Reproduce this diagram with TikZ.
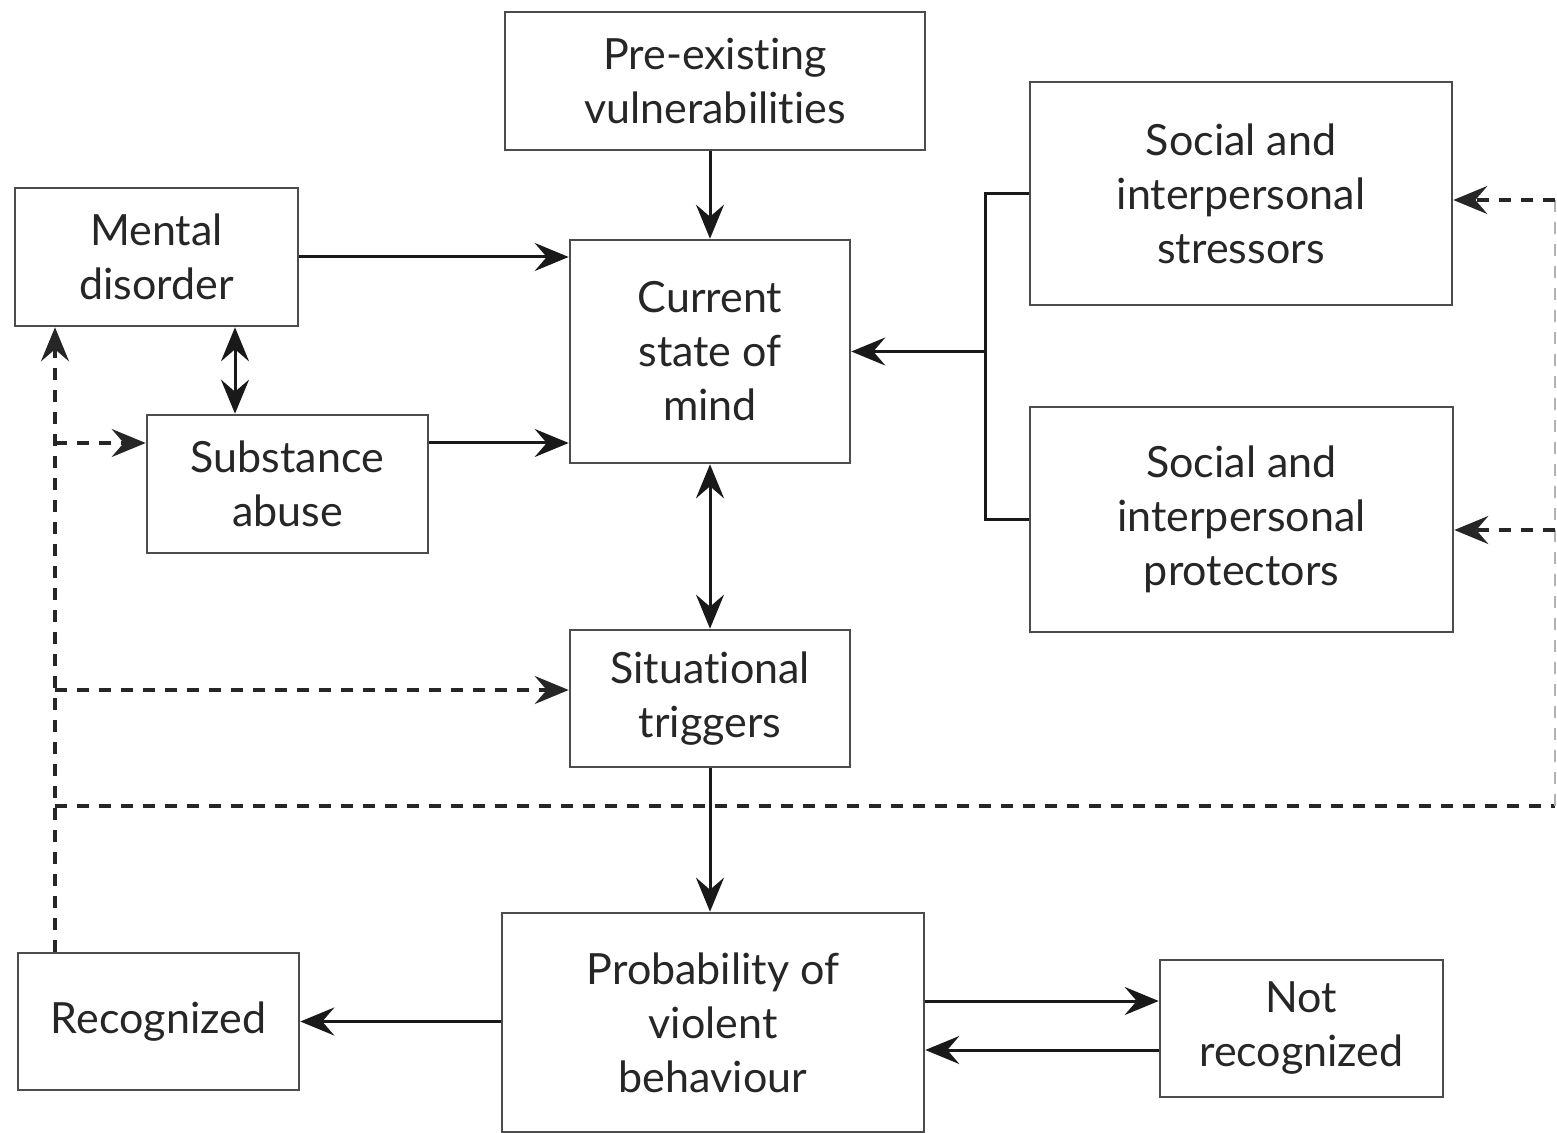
\documentclass[tikz,border=0pt]{standalone}
\usepackage{fontspec}
\setmainfont[Ligatures={NoCommon,NoRequired,NoContextual}]{Lato}
\usetikzlibrary{arrows.meta}
\tikzset{
  box/.style={draw=black!70, line width=1.3pt, align=center, inner sep=0pt,
    font=\fontsize{21.5}{27}\selectfont, text=black!85},
  tip/.style={-{Stealth[length=17pt,width=14pt,inset=6pt]}},
  conn/.style={line width=1.5pt, black!90, tip},
  dconn/.style={line width=1.5pt, black!90, {Stealth[length=17pt,width=14pt,inset=6pt]}-{Stealth[length=17pt,width=14pt,inset=6pt]}},
  dashline/.style={line width=1.7pt, black!85, dash pattern=on 6pt off 5pt},
  dashlight/.style={line width=1.4pt, black!30, dash pattern=on 6pt off 5pt},
}
\begin{document}
\begin{tikzpicture}[x=0.5pt,y=-0.5pt]
\useasboundingbox (0,0) rectangle (1557,1133);
\node[box, minimum width=210pt, minimum height=69pt] (pre) at (715,81) {Pre-existing\\vulnerabilities};
\node[box, minimum width=211pt, minimum height=111.5pt] (stress) at (1241,193.5) {Social and\\interpersonal\\stressors};
\node[box, minimum width=141.5pt, minimum height=69pt] (mental) at (156.5,257) {Mental\\disorder};
\node[box, minimum width=140pt, minimum height=111.5pt] (cur) at (710,351.5) {Current\\state of\\mind};
\node[box, minimum width=140.5pt, minimum height=69pt] (sub) at (287.5,484) {Substance\\abuse};
\node[box, minimum width=211.5pt, minimum height=112.5pt] (prot) at (1241.5,519.5) {Social and\\interpersonal\\protectors};
\node[box, minimum width=140pt, minimum height=68.5pt] (sit) at (710,698.5) {Situational\\triggers};
\node[box, minimum width=211pt, minimum height=109.5pt] (prob) at (713,1022.5) {Probability of\\violent\\behaviour};
\node[box, minimum width=140.5pt, minimum height=68.5pt] (rec) at (158.5,1021.5) {Recognized};
\node[box, minimum width=141.5pt, minimum height=68.5pt] (notrec) at (1301.5,1028.5) {Not\\recognized};

\coordinate (s1) at (300,443);
\coordinate (ms) at (235,300);
\coordinate (bx) at (985,355);
\coordinate (L) at (55,806);
\coordinate (R) at (1555,806);
\coordinate (t1) at (300,1001);
\coordinate (t2) at (300,1050);
\coordinate (st) at (300,690);
\coordinate (r1) at (1555,200);
\coordinate (r2) at (1555,530);

% solid connectors
\draw[conn] (cur.north |- pre.south) -- (cur.north);
\draw[conn] (mental.east) -- (mental.east -| cur.west);
\draw[conn] (s1 -| sub.east) -- (s1 -| cur.west);
\draw[dconn] (mental.south -| ms) -- (sub.north -| ms);
\draw[dconn] (cur.south) -- (sit.north);
\draw[conn] (sit.south) -- (sit.south |- prob.north);
\draw[line width=1.5pt, black!90] (stress.west) -- (stress.west -| bx) -- (prot.west -| bx) -- (prot.west);
\draw[conn] (bx |- cur.east) -- (cur.east);
\draw[conn] (prob.west |- rec.east) -- (rec.east);
\draw[conn] (t1 -| prob.east) -- (t1 -| notrec.west);
\draw[conn] (t2 -| notrec.west) -- (t2 -| prob.east);

% dashed feedback
\draw[dashline, tip] (rec.north -| L) -- (mental.south -| L);
\draw[dashline, tip] (s1 -| L) -- (s1 -| sub.west);
\draw[dashline, tip] (st -| L) -- (st -| sit.west);
\draw[dashline] (L) -- (R);
\draw[dashlight] (R) -- (r1);
\draw[dashline, tip] (r1) -- (r1 -| stress.east);
\draw[dashline, tip] (r2) -- (r2 -| prot.east);
\end{tikzpicture}
\end{document}
